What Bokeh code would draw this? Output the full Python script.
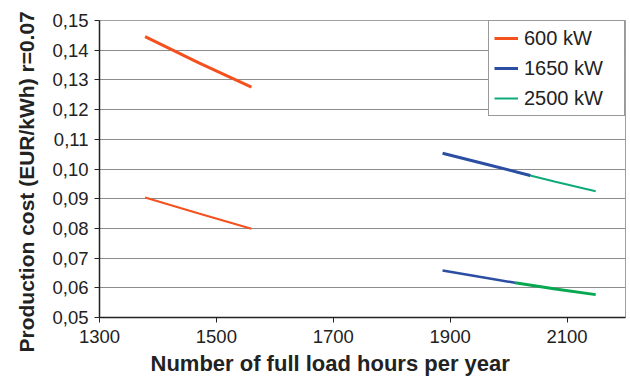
from bokeh.plotting import figure
from bokeh.models import Legend, LegendItem, CustomJSTickFormatter, FixedTicker, Range1d, Title
from bokeh.embed import file_html
from bokeh.resources import INLINE

# Data (full load hours vs production cost, EUR/kWh)
hours_600 = [1378, 1470, 1560]
cost_600_high = [0.1446, 0.1357, 0.1276]
cost_600_low = [0.0904, 0.0850, 0.0799]

hours_1650 = [1887, 1960, 2037]
cost_1650_high = [0.1053, 0.1017, 0.0978]
hours_1650_low = [1887, 1950, 2011]
cost_1650_low = [0.0658, 0.0637, 0.0617]

hours_2500 = [2011, 2080, 2149]
cost_2500_high = [0.0991, 0.0957, 0.0925]
cost_2500_low = [0.0617, 0.0596, 0.0577]

x_ticks = [1300, 1500, 1700, 1900, 2100]
y_ticks = [0.05, 0.06, 0.07, 0.08, 0.09, 0.10, 0.11, 0.12, 0.13, 0.14, 0.15]

x_title = "Number of full load hours per year"
y_title = "Production cost (EUR/kWh) r=0.07"

ORANGE = "#F4511E"
BLUE = "#2B4EA2"
GREEN = "#10AA7A"
GREEN2 = "#08A852"
FONT = "Liberation Sans"

p = figure(width=630, height=380, output_backend="svg", toolbar_location=None,
           x_range=Range1d(1300, 2200), y_range=Range1d(0.05, 0.15),
           min_border_left=99, min_border_right=5, min_border_top=20, min_border_bottom=63)

p.background_fill_color = "white"
p.border_fill_color = "white"
p.outline_line_color = "#A0A0A0"
p.outline_line_width = 1

p.xaxis.ticker = FixedTicker(ticks=x_ticks)
p.yaxis.ticker = FixedTicker(ticks=y_ticks)
p.yaxis.formatter = CustomJSTickFormatter(code="return tick.toFixed(2).replace('.', ',');")

for ax in (p.xaxis[0], p.yaxis[0]):
    ax.axis_line_color = "#222222"
    ax.axis_line_width = 1.5
    ax.major_tick_line_color = "#222222"
    ax.major_tick_in = 0
    ax.major_tick_out = 5
    ax.minor_tick_line_color = None
    ax.major_label_text_font = FONT
    ax.major_label_text_font_size = "18.5px"
    ax.major_label_text_color = "#222222"

p.yaxis.major_label_standoff = 6
p.xaxis.major_label_standoff = 7

xt = Title(text=x_title, align="left", offset=51, text_font=FONT, text_font_size="22px",
           text_font_style="bold", text_color="#222222", standoff=7)
p.add_layout(xt, "below")
yt = Title(text=y_title, align="left", offset=-35, text_font=FONT, text_font_size="21px",
           text_font_style="bold", text_color="#222222", standoff=23)
p.add_layout(yt, "left")

p.xgrid.grid_line_color = None
p.ygrid.grid_line_color = "#8C8C8C"
p.ygrid.grid_line_width = 1

r1 = p.line(hours_600, cost_600_high, line_color=ORANGE, line_width=3)
p.line(hours_600, cost_600_low, line_color=ORANGE, line_width=2)
r3 = p.line(hours_2500, cost_2500_high, line_color=GREEN, line_width=2)
p.line(hours_2500, cost_2500_low, line_color=GREEN2, line_width=3)
r2 = p.line(hours_1650, cost_1650_high, line_color=BLUE, line_width=3)
p.line(hours_1650_low, cost_1650_low, line_color=BLUE, line_width=2.5)

legend = Legend(items=[LegendItem(label="600 kW", renderers=[r1]),
                       LegendItem(label="1650 kW", renderers=[r2]),
                       LegendItem(label="2500 kW", renderers=[r3])],
                location="top_right")
legend.border_line_color = "#333333"
legend.border_line_width = 1
legend.background_fill_alpha = 1
legend.label_text_font = FONT
legend.label_text_font_size = "20px"
legend.label_text_color = "#222222"
legend.glyph_width = 24
legend.glyph_height = 24
legend.label_standoff = 6
legend.label_height = 24
legend.label_width = 95
legend.spacing = 6
legend.padding = 5
legend.margin = 0
p.add_layout(legend)

open("out.html", "w").write(file_html(p, INLINE))
